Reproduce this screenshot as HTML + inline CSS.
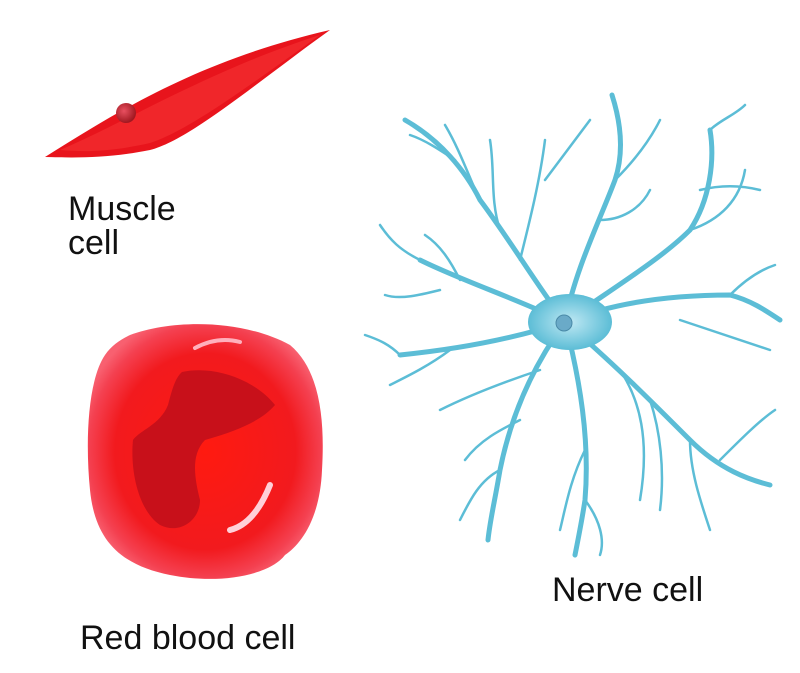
<!DOCTYPE html>
<html><head><meta charset="utf-8"><style>
html,body{margin:0;padding:0;background:#fff;}
svg{display:block}
text{font-family:"Liberation Sans",sans-serif;font-size:34px;fill:#111}
</style></head><body>
<svg width="800" height="673" viewBox="0 0 800 673">
<defs>
<radialGradient id="rbc" cx="0.5" cy="0.5" r="0.55">
<stop offset="0" stop-color="#ff1a10"/><stop offset="0.7" stop-color="#f21a1e"/><stop offset="0.9" stop-color="#f44050"/><stop offset="1" stop-color="#f86070"/>
</radialGradient>
<radialGradient id="nuc" cx="0.4" cy="0.4" r="0.6"><stop offset="0" stop-color="#e85060"/><stop offset="1" stop-color="#a01820"/></radialGradient>
<radialGradient id="soma" cx="0.5" cy="0.5" r="0.5"><stop offset="0" stop-color="#bfe8f3"/><stop offset="1" stop-color="#5cbdd6"/></radialGradient>
</defs>
<!-- muscle cell -->
<path d="M45,157 C120,110 200,60 330,30 C260,80 190,140 150,150 C110,158 80,158 45,157 Z" fill="#e8141c"/>
<path d="M60,150 C130,120 210,70 320,35 C250,85 190,130 150,143 C110,152 85,152 60,150Z" fill="#f0262a"/>
<circle cx="126" cy="113" r="10" fill="url(#nuc)"/>
<text x="68" y="220">Muscle</text>
<text x="68" y="254">cell</text>
<!-- red blood cell -->
<path d="M130,335 C170,320 240,318 290,345 C320,370 325,420 322,470 C320,520 300,545 285,555 C270,575 220,585 170,575 C120,565 95,540 90,490 C85,440 88,380 105,355 C112,345 120,340 130,335 Z" fill="url(#rbc)"/>
<path d="M182,372 C215,365 255,380 275,405 C262,420 240,430 205,440 C190,455 195,480 200,500 C200,520 180,535 160,525 C138,510 130,470 133,440 C140,430 160,425 168,405 C172,390 175,378 182,372 Z" fill="#c8101a"/>
<path d="M230,530 C250,525 262,505 270,485" stroke="#ffd0d8" stroke-width="6" fill="none" stroke-linecap="round"/>
<path d="M195,348 C210,340 225,338 240,342" stroke="#ffb0bc" stroke-width="4" fill="none" stroke-linecap="round"/>
<text x="80" y="649">Red blood cell</text>
<!-- nerve cell -->
<g stroke="#5cbdd6" fill="none" stroke-linecap="round">
<g stroke-width="5">
<path d="M565,322 C540,290 510,240 480,200 C465,170 440,140 405,120"/>
<path d="M565,322 C575,270 600,220 615,180 C625,150 620,120 612,95"/>
<path d="M565,322 C610,290 660,260 690,230 C710,200 715,160 710,130"/>
<path d="M565,322 C620,300 680,295 730,295 C750,300 765,310 780,320"/>
<path d="M565,322 C610,360 650,400 690,440 C720,470 750,480 770,485"/>
<path d="M565,322 C580,380 590,440 585,500 C582,520 578,540 575,555"/>
<path d="M565,322 C530,370 510,420 500,470 C495,500 490,520 488,540"/>
<path d="M565,322 C510,340 450,350 400,355"/>
<path d="M565,322 C520,300 460,280 420,260"/>
</g>
<g stroke-width="2.5">
<path d="M480,200 C470,180 460,150 445,125"/>
<path d="M455,160 C440,150 425,140 410,135"/>
<path d="M500,230 C490,200 495,170 490,140"/>
<path d="M520,260 C530,220 540,180 545,140"/>
<path d="M545,180 C560,160 575,140 590,120"/>
<path d="M615,180 C635,160 650,140 660,120"/>
<path d="M600,220 C620,220 640,210 650,190"/>
<path d="M690,230 C720,220 740,200 745,170"/>
<path d="M710,130 C720,120 735,115 745,105"/>
<path d="M700,190 C720,185 740,185 760,190"/>
<path d="M730,295 C745,280 760,270 775,265"/>
<path d="M680,320 C710,330 740,340 770,350"/>
<path d="M690,440 C690,470 700,500 710,530"/>
<path d="M650,400 C660,430 665,470 660,510"/>
<path d="M620,370 C640,400 650,440 640,500"/>
<path d="M720,460 C740,440 760,420 775,410"/>
<path d="M585,500 C600,520 605,540 600,555"/>
<path d="M585,450 C570,480 565,510 560,530"/>
<path d="M500,470 C480,480 470,500 460,520"/>
<path d="M520,420 C500,430 480,440 465,460"/>
<path d="M540,370 C510,380 470,395 440,410"/>
<path d="M400,355 C390,345 380,340 365,335"/>
<path d="M450,350 C430,365 410,375 390,385"/>
<path d="M420,260 C400,250 390,240 380,225"/>
<path d="M460,280 C450,260 440,245 425,235"/>
<path d="M440,290 C420,295 400,300 385,295"/>
</g>
</g>
<ellipse cx="570" cy="322" rx="42" ry="28" fill="url(#soma)"/>
<circle cx="564" cy="323" r="8" fill="#6aaac8" stroke="#4a8aa8" stroke-width="1"/>
<text x="552" y="601">Nerve cell</text>
</svg>
</body></html>
